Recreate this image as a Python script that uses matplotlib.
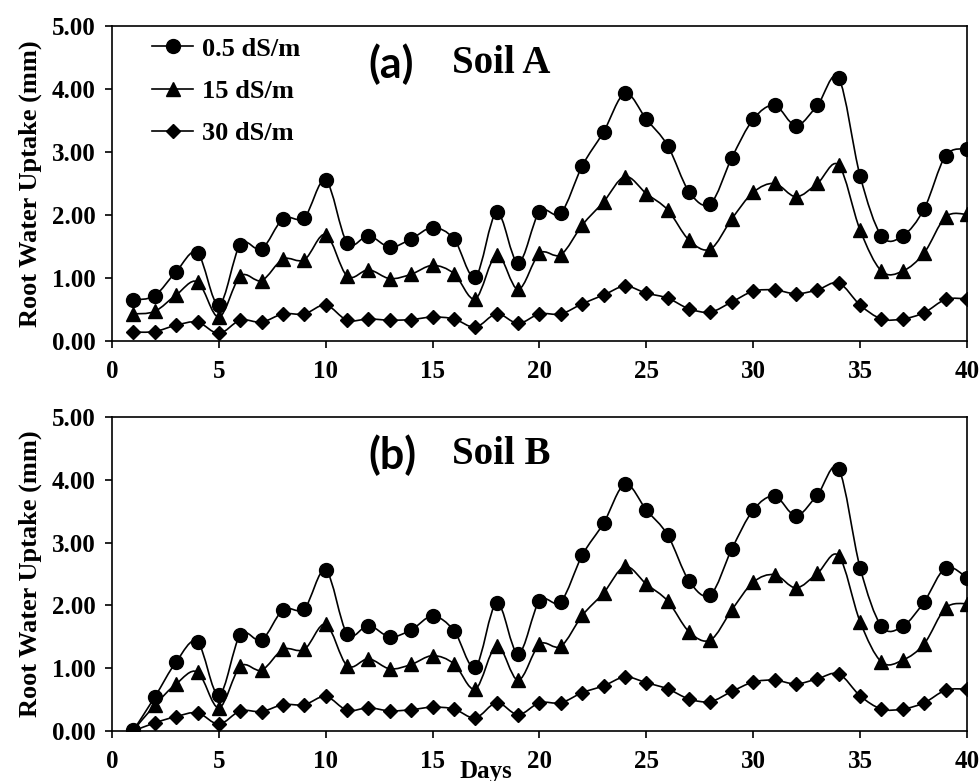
import numpy as np
import matplotlib.pyplot as plt
from matplotlib.path import Path
from matplotlib.patches import PathPatch
from matplotlib.lines import Line2D

days = np.arange(1, 41)

# Soil A
a_low = [0.65, 0.72, 1.10, 1.40, 0.57, 1.53, 1.46, 1.94, 1.96, 2.55,
         1.56, 1.67, 1.49, 1.62, 1.80, 1.62, 1.02, 2.04, 1.24, 2.05,
         2.03, 2.78, 3.32, 3.93, 3.52, 3.10, 2.37, 2.18, 2.91, 3.52,
         3.74, 3.42, 3.74, 4.17, 2.62, 1.67, 1.67, 2.10, 2.94, 3.05]
a_mid = [0.43, 0.47, 0.73, 0.94, 0.38, 1.03, 0.96, 1.30, 1.29, 1.69,
         1.03, 1.13, 0.99, 1.06, 1.20, 1.07, 0.67, 1.37, 0.82, 1.39,
         1.37, 1.84, 2.21, 2.61, 2.34, 2.08, 1.60, 1.46, 1.94, 2.36,
         2.50, 2.29, 2.50, 2.79, 1.76, 1.11, 1.11, 1.40, 1.97, 2.01]
a_high = [0.14, 0.15, 0.25, 0.30, 0.12, 0.33, 0.30, 0.43, 0.43, 0.57,
          0.33, 0.35, 0.33, 0.34, 0.38, 0.35, 0.22, 0.43, 0.28, 0.43,
          0.43, 0.59, 0.73, 0.87, 0.76, 0.68, 0.51, 0.46, 0.62, 0.79,
          0.81, 0.75, 0.81, 0.92, 0.57, 0.35, 0.35, 0.45, 0.66, 0.67]

# Soil B
b_low = [0.01, 0.54, 1.10, 1.42, 0.57, 1.53, 1.45, 1.93, 1.95, 2.56,
         1.55, 1.68, 1.50, 1.61, 1.83, 1.60, 1.02, 2.04, 1.23, 2.07,
         2.06, 2.80, 3.31, 3.93, 3.52, 3.12, 2.39, 2.17, 2.90, 3.52,
         3.74, 3.43, 3.76, 4.17, 2.60, 1.67, 1.67, 2.06, 2.60, 2.44]
b_mid = [0.01, 0.41, 0.75, 0.94, 0.37, 1.03, 0.97, 1.30, 1.30, 1.70,
         1.04, 1.15, 0.99, 1.06, 1.20, 1.07, 0.67, 1.36, 0.81, 1.38,
         1.35, 1.84, 2.20, 2.62, 2.34, 2.07, 1.58, 1.45, 1.93, 2.37,
         2.49, 2.28, 2.51, 2.79, 1.74, 1.10, 1.13, 1.39, 1.96, 2.03]
b_high = [0.00, 0.13, 0.23, 0.29, 0.11, 0.32, 0.31, 0.42, 0.42, 0.55,
          0.33, 0.37, 0.32, 0.34, 0.38, 0.35, 0.21, 0.45, 0.26, 0.45,
          0.45, 0.61, 0.72, 0.86, 0.77, 0.67, 0.51, 0.47, 0.63, 0.78,
          0.81, 0.75, 0.83, 0.91, 0.56, 0.35, 0.35, 0.45, 0.65, 0.67]

labels = ["0.5 dS/m", "15 dS/m", "30 dS/m"]
markers = ["o", "^", "D"]
msizes = [10, 9.5, 7.5]

serif = "Liberation Serif"


def smooth_path(x, y):
    # Excel style smoothed line: cubic bezier through every point
    pts = np.column_stack([x, y]).astype(float)
    ext = np.vstack([pts[0], pts, pts[-1]])
    verts = [pts[0]]
    codes = [Path.MOVETO]
    for i in range(len(pts) - 1):
        p0, p1, p2, p3 = ext[i], ext[i + 1], ext[i + 2], ext[i + 3]
        c1 = p1 + (p2 - p0) / 6.0
        c2 = p2 - (p3 - p1) / 6.0
        verts += [c1, c2, p2]
        codes += [Path.CURVE4] * 3
    return Path(verts, codes)


fig = plt.figure(figsize=(9.8, 7.81), dpi=100)
ax_a = fig.add_axes([0.1143, 0.5634, 0.8724, 0.4033])
ax_b = fig.add_axes([0.1143, 0.064, 0.8724, 0.402])

panels = [
    (ax_a, [a_low, a_mid, a_high], "(a)", "Soil A"),
    (ax_b, [b_low, b_mid, b_high], "(b)", "Soil B"),
]

for ax, series, tag, name in panels:
    for vals, m, ms in zip(series, markers, msizes):
        ax.add_patch(PathPatch(smooth_path(days, vals), fill=False,
                               edgecolor="black", lw=1.2))
        ax.plot(days, vals, ls="none", marker=m, ms=ms, color="black")

    ax.set_xlim(0, 40)
    ax.set_ylim(0, 5)
    ax.set_xticks(range(0, 41, 5))
    ax.set_yticks(np.arange(0, 5.01, 1))
    ax.set_yticklabels([f"{v:.2f}" for v in np.arange(0, 5.01, 1)])
    ax.tick_params(direction="out", length=5, width=1.2)
    ax.tick_params(axis="x", pad=9)
    ax.tick_params(axis="y", pad=7)
    for lab in ax.get_xticklabels() + ax.get_yticklabels():
        lab.set_fontfamily(serif)
        lab.set_fontweight("bold")
        lab.set_fontsize(18)
    for sp in ax.spines.values():
        sp.set_linewidth(1.2)

    ax.set_ylabel("Root Water Uptake (mm)", fontfamily=serif,
                  fontweight="bold", fontsize=19)
    ax.yaxis.set_label_coords(-0.082, 0.5)

    ax.text(12.0, 4.40, tag, fontfamily="Lato", fontweight="bold",
            fontsize=31, ha="left", va="center")
    ax.text(15.9, 4.40, name, fontfamily=serif, fontweight="bold",
            fontsize=28, ha="left", va="center")

handles = [Line2D([], [], color="black", lw=1.2, marker=m, ms=ms)
           for m, ms in zip(markers, msizes)]
ax_a.legend(handles, labels, loc="upper left",
            bbox_to_anchor=(0.047, 0.965), frameon=False,
            borderpad=0, borderaxespad=0, handlelength=1.55,
            handletextpad=0.33, labelspacing=0.72,
            prop={"family": serif, "weight": "bold", "size": 19})

fig.text(0.496, 0.0125, "Days", fontfamily=serif, fontweight="bold",
         fontsize=18, ha="center", va="center")

fig.savefig("out.png", dpi=100)
